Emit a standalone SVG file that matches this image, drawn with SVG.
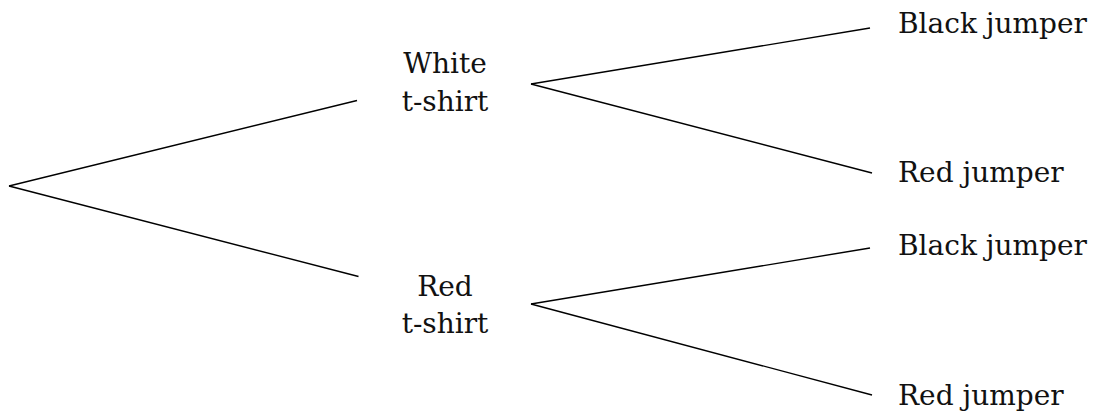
<svg xmlns="http://www.w3.org/2000/svg" width="1105" height="414" viewBox="0 0 1105 414">
<style>
.t{font-family:"DejaVu Serif","Liberation Serif",serif;font-size:28px;fill:#111}
.m{text-anchor:middle}
.c line{stroke:#000;stroke-width:1.4;fill:none}
</style>
<rect width="1105" height="414" fill="#fff"/>
<g class="c" id="connectors">
<line x1="9" y1="186" x2="357" y2="100.5"/>
<line x1="9" y1="186" x2="358.5" y2="276.5"/>
<line x1="531" y1="84" x2="870" y2="28"/>
<line x1="531" y1="84" x2="872" y2="173"/>
<line x1="531" y1="304" x2="870" y2="248"/>
<line x1="531" y1="304" x2="872" y2="395"/>
</g>
<g id="white-tshirt"><text class="t m" x="445" y="73">White</text><text class="t m" x="445" y="111">t-shirt</text></g>
<g id="red-tshirt"><text class="t m" x="445" y="296">Red</text><text class="t m" x="445" y="333">t-shirt</text></g>
<g id="black-jumper-1"><text class="t" x="898" y="33">Black jumper</text></g>
<g id="red-jumper-1"><text class="t" x="898" y="182">Red jumper</text></g>
<g id="black-jumper-2"><text class="t" x="898" y="255">Black jumper</text></g>
<g id="red-jumper-2"><text class="t" x="898" y="405">Red jumper</text></g>
</svg>
